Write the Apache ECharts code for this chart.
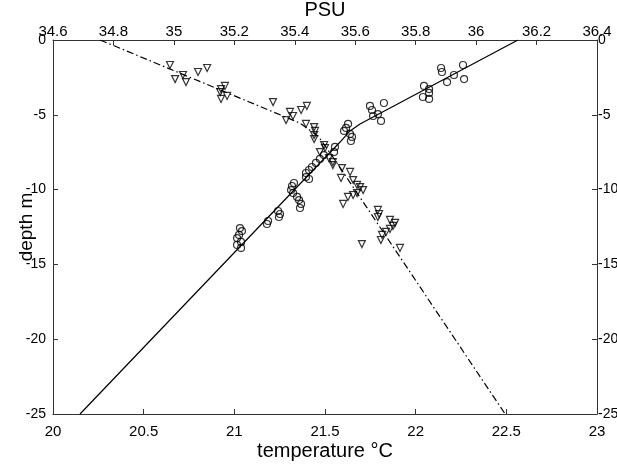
<!DOCTYPE html>
<html>
<head>
<meta charset="utf-8">
<script src="https://cdn.jsdelivr.net/npm/echarts@6/dist/echarts.min.js"></script>
<style>
  html, body { margin: 0; padding: 0; background: #fff; }
  #chart { width: 617px; height: 466px; }
</style>
</head>
<body>
<div id="chart"></div>
<script>
// temperature samples: [temperature degC, depth m]
var tempPoints = [
    [22.140, -1.87], [22.145, -2.14], [22.261, -1.67], [22.211, -2.34], [22.173, -2.81],
    [22.267, -2.61], [22.046, -3.07], [22.074, -3.28], [22.040, -3.81], [22.074, -3.54],
    [22.074, -3.94], [21.748, -4.41], [21.759, -4.68], [21.825, -4.21], [21.765, -5.08],
    [21.792, -4.95], [21.809, -5.41], [21.627, -5.61], [21.616, -5.88], [21.605, -6.08],
    [21.638, -6.28], [21.649, -6.48], [21.643, -6.75], [21.555, -7.15], [21.550, -7.49],
    [21.494, -7.69], [21.472, -7.95], [21.450, -8.22], [21.428, -8.49], [21.412, -8.69],
    [21.395, -8.89], [21.395, -9.16], [21.412, -9.29], [21.329, -9.56], [21.318, -9.76],
    [21.313, -10.03], [21.324, -10.23], [21.346, -10.49], [21.357, -10.70], [21.368, -10.96],
    [21.362, -11.23], [21.241, -11.43], [21.252, -11.63], [21.246, -11.83], [21.186, -12.10],
    [21.180, -12.30], [21.031, -12.57], [21.042, -12.77], [21.026, -13.03], [21.015, -13.24],
    [21.037, -13.50], [21.015, -13.70], [21.037, -13.90]
];
// salinity samples: [PSU, depth m]
var salPoints = [
    [34.987, -1.67], [35.004, -2.61], [35.030, -2.34], [35.040, -2.81], [35.080, -2.14],
    [35.110, -1.87], [35.156, -3.28], [35.169, -3.07], [35.153, -3.48], [35.176, -3.74],
    [35.156, -3.94], [35.328, -4.15], [35.384, -4.81], [35.394, -5.08], [35.371, -5.35],
    [35.421, -4.68], [35.440, -4.41], [35.437, -5.61], [35.464, -5.82], [35.467, -6.08],
    [35.464, -6.35], [35.464, -6.62], [35.497, -7.02], [35.500, -7.22], [35.483, -7.49],
    [35.513, -7.89], [35.526, -8.16], [35.526, -8.36], [35.556, -8.56], [35.553, -9.22],
    [35.583, -8.82], [35.593, -9.36], [35.606, -9.69], [35.616, -9.83], [35.626, -10.03],
    [35.606, -10.23], [35.593, -10.36], [35.576, -10.49], [35.560, -10.96], [35.675, -11.36],
    [35.679, -11.63], [35.675, -11.83], [35.715, -12.03], [35.732, -12.23], [35.725, -12.43],
    [35.715, -12.63], [35.702, -12.83], [35.689, -13.03], [35.685, -13.37], [35.622, -13.64],
    [35.748, -13.90]
];
// fitted profiles
var tempFit = [[20.149, -25], [21.583, -6.82], [21.638, -6.08], [21.693, -5.61], [22.564, 0]];
var salFit = [[34.756, 0], [35.417, -5.55], [35.477, -6.42], [35.533, -8.02], [36.096, -25]];

var tempTicks = ['20', '20.5', '21', '21.5', '22', '22.5', '23'];

var font = 'Liberation Sans, Arial, sans-serif';
var axisColor = '#333';

function baseAxis() {
    return {
        nameMoveOverlap: false,
        axisLine: { show: true, onZero: false, lineStyle: { color: axisColor, width: 1 } },
        axisTick: { show: true, inside: true, length: 5, lineStyle: { color: axisColor } },
        splitLine: { show: false },
        axisLabel: { color: '#000', fontSize: 15, fontFamily: font },
        nameTextStyle: { color: '#000', fontSize: 20, fontFamily: font }
    };
}

var xBottom = Object.assign(baseAxis(), {
    type: 'value', position: 'bottom', min: 20, max: 23, interval: 0.5,
    name: 'temperature °C', nameLocation: 'middle', nameGap: 27
});
xBottom.axisLabel.margin = 10;
xBottom.axisLabel.formatter = function (v) {
    return tempTicks[Math.round((v - 20) / 0.5)];
};

var xTop = Object.assign(baseAxis(), {
    type: 'value', position: 'top', min: 34.6, max: 36.4, interval: 0.2,
    name: 'PSU', nameLocation: 'middle', nameGap: 20
});
xTop.axisLabel.margin = 1;
xTop.axisLabel.formatter = function (v) { return String(+v.toFixed(1)); };

var yLeft = Object.assign(baseAxis(), {
    type: 'value', position: 'left', min: -25, max: 0, interval: 5,
    name: 'depth m', nameLocation: 'middle', nameGap: 17
});
yLeft.axisLabel.margin = 7;
yLeft.axisLabel.fontSize = 14;
yLeft.nameTextStyle.fontSize = 19;

var yRight = Object.assign(baseAxis(), {
    type: 'value', position: 'right', min: -25, max: 0, interval: 5
});
yRight.axisLabel.margin = 1;
yRight.axisLabel.fontSize = 14;

var chart = echarts.init(document.getElementById('chart'));
chart.setOption({
    animation: false,
    backgroundColor: '#fff',
    grid: { left: 53, right: 20, top: 40, bottom: 52, containLabel: false, outerBoundsMode: 'none' },
    xAxis: [xBottom, xTop],
    yAxis: [yLeft, yRight],
    series: [
        {
            type: 'line', xAxisIndex: 0, yAxisIndex: 0, data: tempFit,
            showSymbol: false, lineStyle: { color: '#000', width: 1.2 }
        },
        {
            type: 'line', xAxisIndex: 1, yAxisIndex: 0, data: salFit,
            showSymbol: false, lineStyle: { color: '#000', width: 1.2, type: [7, 3, 1.5, 3] }
        },
        {
            type: 'scatter', xAxisIndex: 0, yAxisIndex: 0, data: tempPoints,
            symbol: 'circle', symbolSize: 7,
            itemStyle: { color: 'transparent', borderColor: '#000', borderWidth: 1.2 }
        },
        {
            type: 'scatter', xAxisIndex: 1, yAxisIndex: 0, data: salPoints,
            symbol: 'triangle', symbolSize: 7, symbolRotate: 180,
            itemStyle: { color: 'transparent', borderColor: '#000', borderWidth: 1.2 }
        }
    ]
});
</script>
</body>
</html>
